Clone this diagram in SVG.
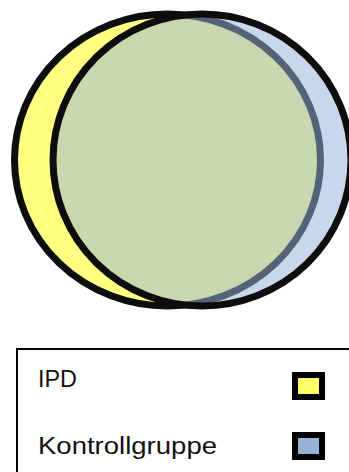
<svg xmlns="http://www.w3.org/2000/svg" width="349" height="472" viewBox="0 0 349 472">
<style>
.ring{stroke:#0d0d0d;stroke-width:7}
.lbl{font-family:"Liberation Sans",Arial,sans-serif;font-size:23px;fill:#111}
.sw{stroke:#000;stroke-width:6}
</style>
<rect width="349" height="472" fill="#fff"/>
<g id="ipd">
<ellipse class="ring" cx="167.5" cy="160" rx="153" ry="146" fill="#ffff80"/>
</g>
<g id="kontrollgruppe">
<ellipse class="ring" cx="202" cy="160" rx="149" ry="146" fill="#95b3d7" fill-opacity="0.52" stroke-opacity="1"/>
</g>
<g id="legend">
<rect x="17" y="349" width="400" height="200" fill="none" stroke="#000" stroke-width="2"/>
<text class="lbl" x="38" y="387" textLength="39" lengthAdjust="spacingAndGlyphs">IPD</text>
<text class="lbl" x="38" y="454" textLength="179" lengthAdjust="spacingAndGlyphs">Kontrollgruppe</text>
<rect class="sw" x="295" y="375" width="27" height="22" fill="#ffff66"/>
<rect class="sw" x="295" y="435" width="27" height="22" fill="#95b3d7"/>
</g>
</svg>
